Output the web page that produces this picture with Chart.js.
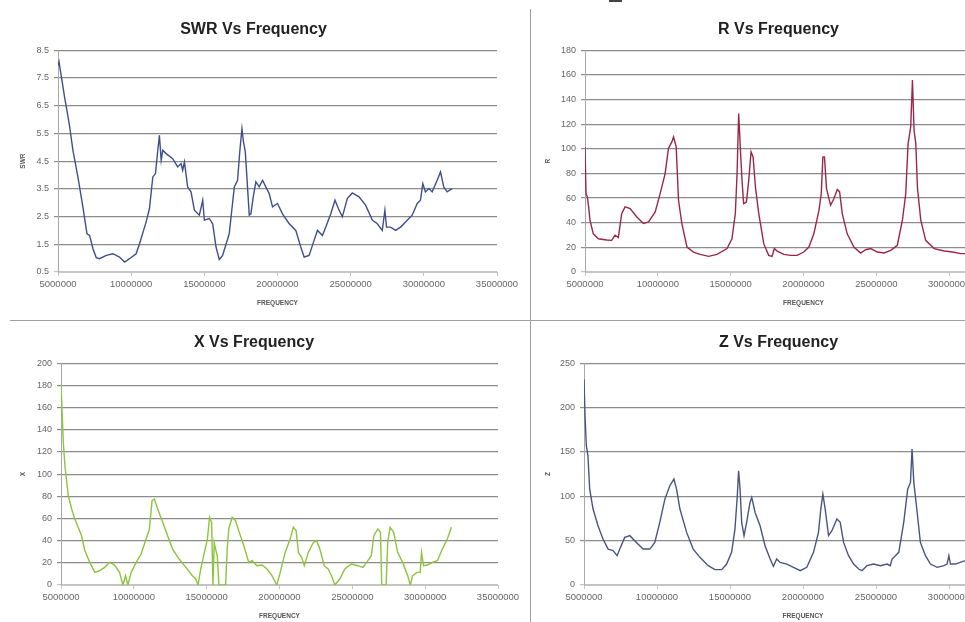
<!DOCTYPE html>
<html>
<head>
<meta charset="utf-8">
<title>Antenna sweep</title>
<script src="https://cdn.jsdelivr.net/npm/chart.js@4/dist/chart.umd.min.js"></script>
<style>
  body { margin: 0; background: #fff; }
  #sheet { position: relative; width: 965px; height: 622px; overflow: hidden; background: #fff; }
  .panel { position: absolute; width: 515px; height: 318px; }
  .rule { position: absolute; background: #a0a0a0; }
</style>
</head>
<body>
<div id="sheet">
  <div class="panel" style="left:10px;top:0"><canvas id="swrChart" width="515" height="318"></canvas></div>
  <div class="panel" style="left:535px;top:0"><canvas id="rChart" width="515" height="318"></canvas></div>
  <div class="panel" style="left:10px;top:313px"><canvas id="xChart" width="515" height="318"></canvas></div>
  <div class="panel" style="left:535px;top:313px"><canvas id="zChart" width="515" height="318"></canvas></div>
  <div class="rule" style="left:530px;top:9px;width:1px;height:613px"></div>
  <div class="rule" style="left:10px;top:320px;width:955px;height:1px"></div>
  <div class="rule" style="left:609px;top:0;width:13px;height:2px;background:#444"></div>
</div>
<script>
// sweep readings: [frequency in MHz, value]
const swrPoints = [
  [5.00, 7.95], [5.07, 8.08], [5.23, 7.54], [5.34, 7.18], [5.45, 6.80], [5.57, 6.46],
  [5.80, 5.73], [6.02, 4.89], [6.36, 3.93], [6.70, 2.85], [6.98, 1.88], [7.16, 1.82],
  [7.39, 1.34], [7.61, 1.02], [7.84, 0.98], [8.30, 1.10], [8.75, 1.16], [9.20, 1.04],
  [9.55, 0.86], [9.89, 0.98], [10.34, 1.16], [10.57, 1.52], [11.02, 2.30], [11.25, 2.79],
  [11.48, 3.93], [11.66, 4.05], [11.82, 4.89], [11.93, 5.43], [12.05, 4.53], [12.16, 4.89],
  [12.39, 4.77], [12.84, 4.59], [13.18, 4.29], [13.41, 4.41], [13.52, 4.17], [13.64, 4.47],
  [13.86, 3.57], [14.09, 3.39], [14.32, 2.73], [14.66, 2.55], [14.89, 3.09], [15.00, 2.37],
  [15.34, 2.43], [15.57, 2.24], [15.80, 1.40], [16.02, 0.95], [16.25, 1.10], [16.70, 1.88],
  [17.05, 3.57], [17.27, 3.81], [17.43, 4.89], [17.57, 5.67], [17.66, 5.25], [17.80, 4.83],
  [17.95, 3.57], [18.07, 2.55], [18.18, 2.60], [18.34, 3.20], [18.52, 3.75], [18.75, 3.57],
  [18.98, 3.81], [19.20, 3.57], [19.43, 3.33], [19.66, 2.85], [20.00, 2.97], [20.34, 2.60],
  [20.80, 2.24], [21.25, 2.00], [21.59, 1.40], [21.82, 1.04], [22.16, 1.10], [22.50, 1.64],
  [22.73, 2.00], [23.07, 1.82], [23.30, 2.12], [23.64, 2.60], [23.93, 3.09], [24.16, 2.79],
  [24.43, 2.49], [24.77, 3.15], [25.11, 3.35], [25.57, 3.21], [26.02, 2.91], [26.48, 2.37],
  [26.82, 2.24], [27.16, 2.00], [27.34, 2.73], [27.45, 2.12], [27.73, 2.12], [28.07, 2.00],
  [28.41, 2.12], [28.75, 2.30], [29.20, 2.55], [29.55, 2.97], [29.77, 3.09], [29.93, 3.69],
  [30.11, 3.39], [30.34, 3.51], [30.57, 3.39], [30.91, 3.81], [31.14, 4.11], [31.36, 3.57],
  [31.59, 3.39], [31.93, 3.51]
];

const rPoints = [
  [5.00, 101.5], [5.07, 63.6], [5.16, 61.0], [5.25, 52.8], [5.34, 42.0], [5.57, 31.0],
  [5.92, 27.0], [6.49, 26.0], [6.83, 25.7], [7.06, 29.8], [7.29, 28.0], [7.52, 47.4],
  [7.75, 52.8], [8.10, 51.4], [8.56, 44.7], [9.01, 39.3], [9.36, 40.6], [9.82, 48.7],
  [10.16, 63.6], [10.50, 79.9], [10.73, 100.2], [10.96, 105.6], [11.08, 109.6], [11.26, 101.5],
  [11.42, 58.2], [11.65, 39.3], [12.00, 20.3], [12.45, 16.2], [12.91, 14.3], [13.49, 12.7],
  [14.06, 14.3], [14.75, 19.0], [15.09, 27.0], [15.32, 47.4], [15.44, 79.9], [15.55, 128.6],
  [15.67, 98.8], [15.78, 74.4], [15.89, 55.5], [16.08, 56.8], [16.24, 74.4], [16.40, 97.5],
  [16.54, 93.4], [16.70, 69.0], [16.93, 47.4], [17.27, 23.0], [17.61, 13.5], [17.84, 12.7],
  [18.00, 19.0], [18.19, 17.0], [18.65, 14.3], [19.11, 13.5], [19.56, 13.5], [20.02, 16.2],
  [20.37, 20.3], [20.71, 31.0], [21.06, 50.0], [21.22, 63.6], [21.33, 93.4], [21.44, 93.4],
  [21.58, 67.7], [21.86, 54.1], [22.09, 59.6], [22.32, 66.9], [22.48, 65.0], [22.66, 47.4],
  [23.00, 31.0], [23.46, 20.3], [23.92, 15.4], [24.27, 18.1], [24.61, 19.0], [25.07, 16.2],
  [25.53, 15.4], [25.99, 17.6], [26.44, 21.7], [26.79, 42.0], [27.02, 63.6], [27.18, 104.2],
  [27.36, 117.8], [27.48, 155.7], [27.59, 115.0], [27.71, 104.2], [27.82, 69.0], [28.05, 42.0],
  [28.39, 25.7], [28.97, 19.0], [29.66, 17.0], [30.23, 16.2], [30.80, 14.9], [31.15, 14.9],
  [31.60, 15.5], [32.00, 15.0]
];

const xPoints = [
  [5.00, 179.6], [5.07, 158.6], [5.16, 128.5], [5.27, 107.5], [5.50, 80.5], [5.73, 68.5],
  [5.95, 59.5], [6.18, 52.0], [6.41, 44.4], [6.64, 30.9], [6.98, 20.4], [7.32, 11.4],
  [7.66, 12.9], [8.00, 15.9], [8.34, 20.4], [8.68, 18.0], [9.02, 11.4], [9.25, 0],
  [9.43, 8.4], [9.59, 0], [9.82, 11.4], [10.16, 20.4], [10.50, 27.9], [10.84, 41.4],
  [11.07, 50.5], [11.25, 76.0], [11.41, 77.5], [11.64, 68.5], [11.98, 56.5], [12.32, 44.4],
  [12.66, 32.4], [13.11, 23.4], [13.57, 15.9], [14.02, 8.4], [14.25, 5.4], [14.41, 0],
  [14.59, 14.4], [14.82, 27.9], [15.05, 41.4], [15.20, 61.0], [15.34, 56.5], [15.43, 0],
  [15.52, 38.4], [15.61, 32.4], [15.73, 26.4], [15.84, 0], [16.07, 0], [16.30, 0],
  [16.41, 32.4], [16.52, 50.5], [16.75, 61.0], [16.98, 58.0], [17.20, 49.0], [17.55, 35.4],
  [17.89, 20.4], [18.11, 21.9], [18.45, 17.4], [18.80, 18.0], [19.14, 14.4], [19.48, 8.4],
  [19.82, 0], [20.05, 11.4], [20.39, 29.4], [20.73, 41.4], [20.95, 52.0], [21.14, 49.0],
  [21.30, 29.4], [21.52, 24.9], [21.70, 17.4], [21.98, 29.4], [22.32, 38.4], [22.55, 39.9],
  [22.77, 32.4], [23.07, 17.4], [23.34, 14.4], [23.57, 8.4], [23.80, 0], [24.14, 5.4],
  [24.48, 14.4], [24.93, 18.9], [25.39, 17.4], [25.73, 15.9], [26.07, 21.9], [26.30, 26.4],
  [26.48, 44.4], [26.75, 50.5], [26.93, 47.5], [27.02, 0], [27.16, 0], [27.32, 0],
  [27.43, 38.4], [27.59, 52.0], [27.84, 47.5], [28.11, 29.4], [28.45, 20.4], [28.80, 8.4],
  [28.98, 0], [29.14, 8.4], [29.43, 11.4], [29.66, 11.4], [29.75, 29.4], [29.89, 17.4],
  [30.16, 18.0], [30.50, 20.4], [30.84, 21.9], [31.18, 32.4], [31.52, 41.4], [31.80, 52.0]
];

const zPoints = [
  [5.00, 232.0], [5.07, 190.7], [5.16, 157.0], [5.27, 145.6], [5.39, 108.0], [5.62, 85.6],
  [5.96, 66.8], [6.30, 51.8], [6.65, 40.5], [6.99, 38.7], [7.27, 33.0], [7.45, 40.5],
  [7.79, 53.7], [8.14, 55.6], [8.59, 48.0], [9.05, 40.5], [9.51, 40.5], [9.85, 48.0],
  [10.19, 70.6], [10.54, 96.8], [10.88, 111.9], [11.16, 119.4], [11.34, 108.0], [11.57, 85.6],
  [12.03, 59.3], [12.48, 40.5], [12.94, 31.2], [13.51, 21.8], [13.97, 17.3], [14.43, 17.3],
  [14.77, 23.6], [15.11, 36.8], [15.34, 63.0], [15.50, 100.6], [15.59, 128.8], [15.69, 108.0],
  [15.80, 70.6], [15.96, 55.6], [16.14, 70.6], [16.37, 93.0], [16.49, 98.7], [16.72, 81.8],
  [17.06, 66.8], [17.40, 44.3], [17.75, 29.3], [17.97, 21.0], [18.20, 29.3], [18.43, 25.5],
  [18.89, 23.6], [19.35, 19.9], [19.81, 16.1], [20.26, 19.9], [20.72, 36.8], [21.06, 59.3],
  [21.22, 85.6], [21.36, 102.5], [21.52, 85.6], [21.75, 55.6], [21.98, 61.2], [22.32, 74.3],
  [22.55, 70.6], [22.78, 48.0], [23.12, 33.0], [23.47, 23.6], [23.81, 18.0], [24.04, 16.1],
  [24.38, 21.8], [24.84, 23.6], [25.30, 21.8], [25.76, 23.6], [25.98, 21.8], [26.10, 29.3],
  [26.33, 33.0], [26.56, 36.8], [26.90, 70.6], [27.17, 108.0], [27.36, 115.6], [27.47, 153.2],
  [27.59, 115.6], [27.77, 89.3], [28.04, 48.0], [28.39, 33.0], [28.73, 23.6], [29.19, 19.9],
  [29.65, 21.8], [29.87, 23.6], [29.99, 33.0], [30.10, 23.6], [30.45, 23.6], [30.90, 26.3],
  [31.13, 27.4], [31.60, 28.0], [32.00, 28.0]
];

const freqMin = 5000000;
const freqMax = 35000000;
const freqStep = 5000000;

const labelFont = "'Liberation Sans', Arial, sans-serif";
const gridDark = '#8c8c8c';
const gridLight = '#c4c4c4';

function buildChart(canvasId, points, o) {
  new Chart(document.getElementById(canvasId), {
    type: 'line',
    data: {
      datasets: [{
        data: points.map(p => ({ x: Math.round(p[0] * 1e6), y: p[1] })),
        borderColor: o.color,
        borderWidth: 1.4,
        pointRadius: 0,
        tension: 0,
        fill: false
      }]
    },
    options: {
      responsive: false,
      animation: false,
      events: [],
      layout: { padding: { left: 0, right: o.padRight, top: 0, bottom: 0 } },
      plugins: {
        legend: { display: false },
        tooltip: { enabled: false },
        title: {
          display: true,
          text: o.title,
          color: '#222',
          font: { family: labelFont, size: 16, weight: 'bold' },
          padding: { top: 20, bottom: 11 }
        }
      },
      scales: {
        x: {
          type: 'linear',
          min: freqMin,
          max: freqMax,
          afterFit: s => { s.height = 46; },
          ticks: {
            stepSize: freqStep,
            autoSkip: false,
            maxRotation: 0,
            padding: 3,
            color: '#666',
            font: { family: labelFont, size: 9.5 },
            callback: v => String(v)
          },
          grid: { drawOnChartArea: false, color: gridLight, tickLength: 4 },
          border: { color: gridLight },
          title: {
            display: true,
            text: 'FREQUENCY',
            color: '#555',
            font: { family: labelFont, size: 6.5, weight: 'bold' },
            padding: { top: 0, bottom: 11 }
          }
        },
        y: {
          min: o.yMin,
          max: o.yMax,
          afterFit: s => { s.width = o.axisWidth; },
          ticks: {
            stepSize: o.yStep,
            padding: 5,
            color: '#666',
            font: { family: labelFont, size: 9 },
            callback: v => o.decimals ? v.toFixed(o.decimals) : String(v)
          },
          grid: {
            color: c => (c.tick && c.tick.value === o.yMin ? gridLight : gridDark),
            lineWidth: 1.2,
            tickLength: 4
          },
          border: { color: '#a8a8a8' },
          title: {
            display: true,
            text: o.yTitle,
            color: '#555',
            font: { family: labelFont, size: 6.5, weight: 'bold' },
            padding: { top: 9, bottom: 0 }
          }
        }
      }
    }
  });
}

buildChart('swrChart', swrPoints, {
  title: 'SWR Vs Frequency', yTitle: 'SWR', color: '#3e4f8c',
  yMin: 0.5, yMax: 8.5, yStep: 1, decimals: 1, axisWidth: 48, padRight: 28
});
buildChart('rChart', rPoints, {
  title: 'R Vs Frequency', yTitle: 'R', color: '#9b2748',
  yMin: 0, yMax: 180, yStep: 20, decimals: 0, axisWidth: 50, padRight: 28
});
buildChart('xChart', xPoints, {
  title: 'X Vs Frequency', yTitle: 'X', color: '#8cc43c',
  yMin: 0, yMax: 200, yStep: 20, decimals: 0, axisWidth: 51, padRight: 27
});
buildChart('zChart', zPoints, {
  title: 'Z Vs Frequency', yTitle: 'Z', color: '#4a5482',
  yMin: 0, yMax: 250, yStep: 50, decimals: 0, axisWidth: 49, padRight: 28
});
</script>
</body>
</html>
